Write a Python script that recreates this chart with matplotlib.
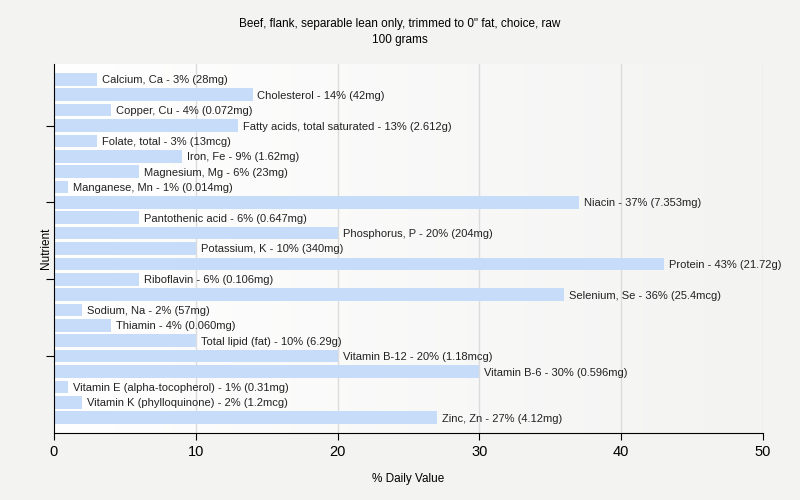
import numpy as np
import matplotlib.pyplot as plt
from matplotlib.colors import LinearSegmentedColormap

# Dane
nutrients = ["Calcium, Ca", "Cholesterol", "Copper, Cu", "Fatty acids, total saturated",
             "Folate, total", "Iron, Fe", "Magnesium, Mg", "Manganese, Mn", "Niacin",
             "Pantothenic acid", "Phosphorus, P", "Potassium, K", "Protein", "Riboflavin",
             "Selenium, Se", "Sodium, Na", "Thiamin", "Total lipid (fat)", "Vitamin B-12",
             "Vitamin B-6", "Vitamin E (alpha-tocopherol)", "Vitamin K (phylloquinone)",
             "Zinc, Zn"]
daily_pct = [3, 14, 4, 13, 3, 9, 6, 1, 37, 6, 20, 10, 43, 6, 36, 2, 4, 10, 20, 30, 1, 2, 27]
amounts = ["28mg", "42mg", "0.072mg", "2.612g", "13mcg", "1.62mg", "23mg", "0.014mg",
           "7.353mg", "0.647mg", "204mg", "340mg", "21.72g", "0.106mg", "25.4mcg", "57mg",
           "0.060mg", "6.29g", "1.18mcg", "0.596mg", "0.31mg", "1.2mcg", "4.12mg"]

plt.rcParams["font.family"] = ["Liberation Sans", "DejaVu Sans"]

bg = "#f3f3f2"
fig = plt.figure(figsize=(8, 5), dpi=100, facecolor=bg)
ax = fig.add_axes([54 / 800, 1 - 433 / 500, (763 - 54) / 800, (433 - 64) / 500])

n = len(nutrients)
y = np.arange(n)

# tlo z gradientem
grad = np.linspace(0, 1, 256).reshape(1, -1)
ax.imshow(grad, extent=[0, 50, n, -1], aspect="auto", zorder=0,
          cmap=LinearSegmentedColormap.from_list("g", ["#ffffff", bg]))

for gx in [10, 20, 30, 40, 50]:
    ax.axvline(gx, color="#dcdcdc", lw=1, zorder=1)

ax.barh(y, daily_pct, height=0.82, color="#c6dcf8", zorder=2)
for i in range(n):
    ax.text(daily_pct[i] + 0.35, y[i], nutrients[i] + " - " + str(daily_pct[i]) + "% (" + amounts[i] + ")",
            va="center_baseline", ha="left", fontsize=8, color="#222222", zorder=3)

ax.set_xlim(0, 50)
ax.set_ylim(n, -1)
ax.set_xticks([0, 10, 20, 30, 40, 50])
ax.set_yticks([3, 8, 13, 18])
ax.set_yticklabels([])
ax.tick_params(axis="x", labelsize=10.5, length=5, direction="out", pad=4)
ax.tick_params(axis="y", length=6, direction="out")
ax.spines["top"].set_visible(False)
ax.spines["right"].set_visible(False)
ax.set_xlabel("% Daily Value", fontsize=8.5, labelpad=10)
ax.set_ylabel("Nutrient", fontsize=8.5, labelpad=-8)

fig.text(0.5, 1 - 24 / 500, "Beef, flank, separable lean only, trimmed to 0\" fat, choice, raw",
         ha="center", va="center", fontsize=8.5)
fig.text(0.5, 1 - 40 / 500, "100 grams", ha="center", va="center", fontsize=8.5)

fig.savefig("out.png", dpi=100, facecolor=bg)
